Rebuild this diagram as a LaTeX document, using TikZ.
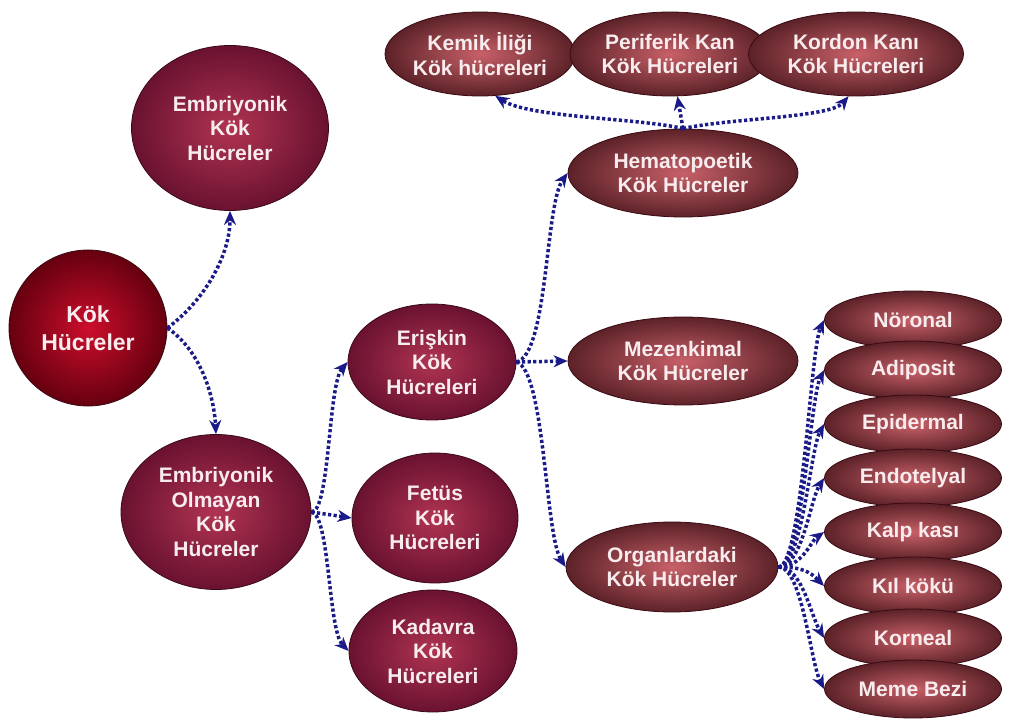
\documentclass[tikz,border=0pt]{standalone}
\usepackage{fontspec}
\setmainfont{Liberation Sans}
\usetikzlibrary{shapes.geometric,arrows.meta}
\definecolor{navy}{HTML}{1A1A88}
\definecolor{txt}{HTML}{F8ECEE}
\definecolor{edge}{HTML}{3A0A14}
\definecolor{rootin}{HTML}{CC0E2C}
\definecolor{rootout}{HTML}{66000F}
\definecolor{mainin}{HTML}{B03452}
\definecolor{mainout}{HTML}{6A1230}
\definecolor{subin}{HTML}{C86068}
\definecolor{subout}{HTML}{5C2228}
\begin{document}
\begin{tikzpicture}[x=1pt,y=-1pt,
  base/.style={ellipse,draw=edge,line width=0.8pt,inner sep=0pt,align=center,
    text=txt,font=\bfseries\fontsize{21}{24.5}\selectfont},
  rootnode/.style={base,inner color=rootin,outer color=rootout,
    font=\bfseries\fontsize{23}{28}\selectfont},
  mainnode/.style={base,inner color=mainin,outer color=mainout},
  subnode/.style={base,inner color=subin,outer color=subout},
  leaf/.style={subnode,minimum width=177pt,minimum height=58pt},
  topnode/.style={subnode,minimum height=84pt},
  conn/.style={draw=navy,line width=3.5pt,dash pattern=on 3.2pt off 2.4pt,
    -{Stealth[length=14pt,width=12pt,inset=4.5pt]}}]
\useasboundingbox (0,0) rectangle (1013,722);
\fill[white] (0,0) rectangle (1013,722);

% left part
\node[mainnode,minimum width=197pt,minimum height=165pt] (emb) at (230,128) {Embriyonik\\Kök\\Hücreler};
\node[rootnode,minimum width=158pt,minimum height=156pt] (kok) at (88,328) {Kök\\Hücreler};
\node[mainnode,minimum width=190pt,minimum height=155pt] (non) at (216,512) {Embriyonik\\Olmayan\\Kök\\Hücreler};
\node[mainnode,minimum width=168pt,minimum height=116pt] (eri) at (432,362) {Erişkin\\Kök\\Hücreleri};
\node[mainnode,minimum width=166pt,minimum height=130pt] (fet) at (435,518) {Fetüs\\Kök\\Hücreleri};
\node[mainnode,minimum width=168pt,minimum height=122pt] (kad) at (433,651) {Kadavra\\Kök\\Hücreleri};

% middle
\node[subnode,minimum width=230pt,minimum height=88pt] (hem) at (683,173) {Hematopoetik\\Kök Hücreler};
\node[subnode,minimum width=230pt,minimum height=88pt] (mez) at (683,361) {Mezenkimal\\Kök Hücreler};
\node[subnode,minimum width=212pt,minimum height=90pt] (org) at (672,567) {Organlardaki\\Kök Hücreler};

% top row
\node[topnode,minimum width=190pt] (kem) at (480,54) {Kemik İliği\\Kök hücreleri};
\node[topnode,minimum width=200pt] (per) at (670,54) {Periferik Kan\\Kök Hücreleri};
\node[topnode,minimum width=215pt] (kor) at (856,54) {Kordon Kanı\\Kök Hücreleri};

% right column
\node[leaf] (r1) at (913,320) {Nöronal};
\node[leaf] (r2) at (913,370) {Adiposit};
\node[leaf] (r3) at (913,424) {Epidermal};
\node[leaf] (r4) at (913,478) {Endotelyal};
\node[leaf] (r5) at (913,532) {Kalp kası};
\node[leaf] (r6) at (913,586) {Kıl kökü};
\node[leaf] (r7) at (913,638) {Korneal};
\node[leaf] (r8) at (913,689) {Meme Bezi};

% connectors
\draw[conn] (kok.east) .. controls (205,300) and (230,255) .. (emb.south);
\draw[conn] (kok.east) .. controls (200,350) and (214,395) .. (non.north);
\draw[conn] (non.east) .. controls (330,512) and (328,385) .. (eri.west);
\draw[conn] (non.east) -- (fet.west);
\draw[conn] (non.east) .. controls (330,515) and (328,630) .. (kad.west);
\draw[conn] (eri.east) .. controls (548,355) and (545,205) .. (hem.west);
\draw[conn] (eri.east) -- (mez.west);
\draw[conn] (eri.east) .. controls (545,370) and (545,535) .. (org.west);
\draw[conn] (hem.north) .. controls (640,118) and (530,118) .. (kem.-70);
\draw[conn] (hem.north) -- (per.-80);
\draw[conn] (hem.north) .. controls (730,118) and (830,118) .. (kor.-100);
\draw[conn] (org.east) .. controls +(24,0) and +(-14,30) .. (r1.west);
\draw[conn] (org.east) .. controls +(24,0) and +(-14,28) .. (r2.west);
\draw[conn] (org.east) .. controls +(24,0) and +(-14,26) .. (r3.west);
\draw[conn] (org.east) .. controls +(24,0) and +(-14,22) .. (r4.west);
\draw[conn] (org.east) .. controls +(24,0) and +(-14,10) .. (r5.west);
\draw[conn] (org.east) .. controls +(24,0) and +(-14,-14) .. (r6.west);
\draw[conn] (org.east) .. controls +(24,0) and +(-14,-24) .. (r7.west);
\draw[conn] (org.east) .. controls +(24,0) and +(-14,-28) .. (r8.west);
\end{tikzpicture}
\end{document}
